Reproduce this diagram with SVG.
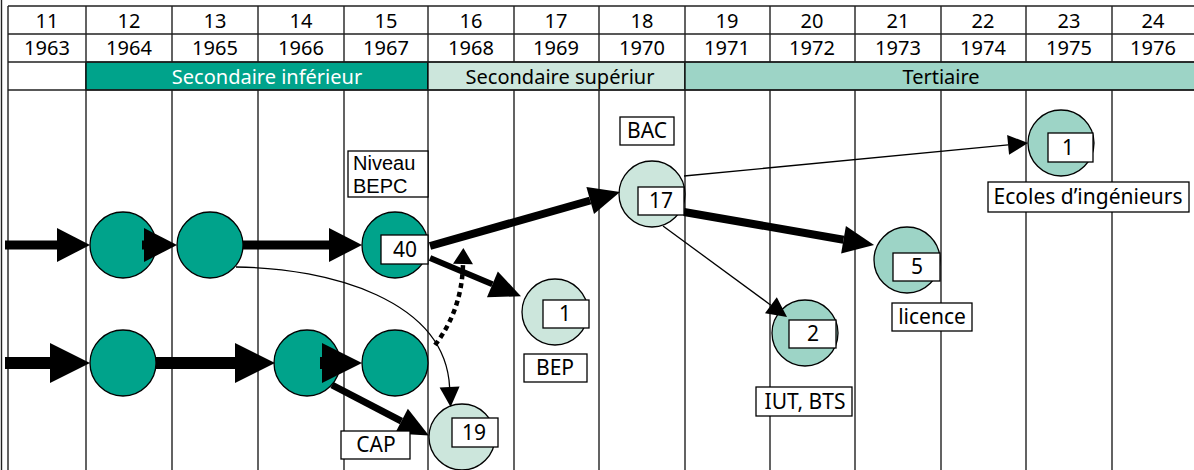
<svg xmlns="http://www.w3.org/2000/svg" width="1194" height="470" viewBox="0 0 1194 470">
<style>
text{font-family:"Noto Sans","Open Sans","DejaVu Sans",sans-serif;font-size:20px;fill:#000}
#labels text{font-size:21px}
#labels text.tight{font-family:"Liberation Sans",Arial,sans-serif;font-size:20px}
.c{text-anchor:middle}
.g{stroke:#222;stroke-width:1.4;fill:none}
.dk{fill:#00A38B;stroke:#000;stroke-width:1.3}
.lt{fill:#CCE6DC;stroke:#000;stroke-width:1.3}
.md{fill:#9DD4C6;stroke:#000;stroke-width:1.3}
.bx{fill:#fff;stroke:#000;stroke-width:1.3}
.ln{stroke:#000;fill:none}
</style>
<defs>
<marker id="mBig1" markerUnits="userSpaceOnUse" markerWidth="33" markerHeight="34" refX="0" refY="17" orient="auto" overflow="visible"><path d="M0,0 L33,17 L0,34 Z" fill="#000"/></marker>
<marker id="mBig2" markerUnits="userSpaceOnUse" markerWidth="40" markerHeight="40" refX="0" refY="20" orient="auto" overflow="visible"><path d="M0,0 L40,20 L0,40 Z" fill="#000"/></marker>
<marker id="mMed" markerUnits="userSpaceOnUse" markerWidth="31" markerHeight="28" refX="0" refY="14" orient="auto" overflow="visible"><path d="M0,0 L31,14 L0,28 Z" fill="#000"/></marker>
<marker id="mSmall" markerUnits="userSpaceOnUse" markerWidth="20" markerHeight="20" refX="0" refY="10" orient="auto" overflow="visible"><path d="M0,0 L20,10 L0,20 Z" fill="#000"/></marker>
<marker id="mDot" markerUnits="userSpaceOnUse" markerWidth="16" markerHeight="20" refX="0" refY="10" orient="auto" overflow="visible"><path d="M0,0 L16,10 L0,20 Z" fill="#000"/></marker>
</defs>
<rect x="0" y="0" width="1194" height="470" fill="#fff"/>
<g id="grid">
<line class="g" x1="1.5" y1="0" x2="1.5" y2="470" stroke="#555"/>
<path class="g" d="M8,6V470 M86,6V470 M172,6V470 M258,6V470 M344,6V470 M428,6V470 M514,6V470 M599,6V470 M685,6V470 M770,6V470 M855,6V470 M941,6V470 M1026,6V470 M1112,6V470"/>
<rect x="86" y="62" width="342" height="28" class="dk"/>
<rect x="428" y="62" width="257" height="28" class="lt"/>
<rect x="685" y="62" width="512" height="28" class="md"/>
<path class="g" d="M8,6H1194 M8,34H1194 M8,62H1194 M8,90H1194"/>
<g id="header-ages">
<text class="c" x="47" y="28">11</text><text class="c" x="129" y="28">12</text><text class="c" x="215" y="28">13</text><text class="c" x="301" y="28">14</text><text class="c" x="386" y="28">15</text><text class="c" x="471" y="28">16</text><text class="c" x="556" y="28">17</text><text class="c" x="642" y="28">18</text><text class="c" x="727" y="28">19</text><text class="c" x="812" y="28">20</text><text class="c" x="898" y="28">21</text><text class="c" x="983" y="28">22</text><text class="c" x="1069" y="28">23</text><text class="c" x="1153" y="28">24</text>
</g>
<g id="header-years">
<text class="c" x="47" y="55">1963</text><text class="c" x="129" y="55">1964</text><text class="c" x="215" y="55">1965</text><text class="c" x="301" y="55">1966</text><text class="c" x="386" y="55">1967</text><text class="c" x="471" y="55">1968</text><text class="c" x="556" y="55">1969</text><text class="c" x="642" y="55">1970</text><text class="c" x="727" y="55">1971</text><text class="c" x="812" y="55">1972</text><text class="c" x="898" y="55">1973</text><text class="c" x="983" y="55">1974</text><text class="c" x="1069" y="55">1975</text><text class="c" x="1153" y="55">1976</text>
</g>
<g id="header-levels">
<text class="c" x="267" y="84" style="fill:#fff">Secondaire inférieur</text>
<text class="c" x="560" y="84">Secondaire supériur</text>
<text class="c" x="941" y="84">Tertiaire</text>
</g>
</g>
<g id="n-r1a"><circle class="dk" cx="123" cy="245" r="33"/></g>
<g id="n-r1b"><circle class="dk" cx="210" cy="245" r="33"/></g>
<g id="n-bepc"><circle class="dk" cx="395" cy="245" r="33"/></g>
<g id="n-r2a"><circle class="dk" cx="123" cy="363" r="33"/></g>
<g id="n-r2b"><circle class="dk" cx="307" cy="363" r="33"/></g>
<g id="n-r2c"><circle class="dk" cx="395" cy="363" r="33"/></g>
<g id="n-bac"><circle class="lt" cx="652" cy="194" r="33"/></g>
<g id="n-bep"><circle class="lt" cx="555" cy="312" r="33"/></g>
<g id="n-cap"><circle class="lt" cx="462" cy="437" r="33"/></g>
<g id="n-iut"><circle class="md" cx="805" cy="333" r="33"/></g>
<g id="n-licence"><circle class="md" cx="907" cy="260" r="33"/></g>
<g id="n-ecoles"><circle class="md" cx="1061" cy="143" r="33"/></g>
<g id="connectors">
<path class="ln" stroke-width="9" d="M5,245H57" marker-end="url(#mBig1)"/>
<path class="ln" stroke-width="9" d="M142,245H144" marker-end="url(#mBig1)"/>
<path class="ln" stroke-width="9" d="M243,245H329" marker-end="url(#mBig1)"/>
<path class="ln" stroke-width="12" d="M5,363H50" marker-end="url(#mBig2)"/>
<path class="ln" stroke-width="12" d="M156,363H235" marker-end="url(#mBig2)"/>
<path class="ln" stroke-width="12" d="M320,363H322" marker-end="url(#mBig2)"/>
<path class="ln" stroke-width="7" d="M332,385L401.4,421.1" marker-end="url(#mMed)"/>
<path class="ln" stroke-width="8" d="M430,246L590.2,200.5" marker-end="url(#mMed)"/>
<path class="ln" stroke-width="6" d="M430,258L492.4,284.3" marker-end="url(#mMed)"/>
<path class="ln" stroke-width="1.3" d="M684,176L1008.1,144.9" marker-end="url(#mSmall)"/>
<path class="ln" stroke-width="8" d="M684,212L843.5,239.7" marker-end="url(#mMed)"/>
<path class="ln" stroke-width="1.3" d="M663,226L770.9,305.2" marker-end="url(#mSmall)"/>
<path class="ln" stroke-width="1.3" d="M236,267C330,268 445,300 449.6,387" marker-end="url(#mSmall)"/>
<path class="ln" stroke-width="4.5" stroke-dasharray="5 4" d="M435,345Q462,310 463,264" marker-end="url(#mDot)"/>
</g>
<g id="labels">
<g id="l-40"><rect class="bx" x="381" y="235" width="47" height="29"/><text class="c" x="405" y="257">40</text></g>
<g id="l-17"><rect class="bx" x="638" y="187" width="46" height="28"/><text class="c" x="661" y="208">17</text></g>
<g id="l-ecoles-n"><rect class="bx" x="1048" y="133" width="45" height="29"/><text class="c" x="1068" y="155">1</text></g>
<g id="l-licence-n"><rect class="bx" x="893" y="253" width="47" height="28"/><text class="c" x="917" y="274">5</text></g>
<g id="l-iut-n"><rect class="bx" x="789" y="320" width="47" height="28"/><text class="c" x="813" y="341">2</text></g>
<g id="l-bep-n"><rect class="bx" x="543" y="300" width="46" height="28"/><text class="c" x="565" y="321">1</text></g>
<g id="l-cap-n"><rect class="bx" x="452" y="418" width="46" height="29"/><text class="c" x="474" y="440">19</text></g>
<g id="l-bac"><rect class="bx" x="620" y="117" width="54" height="28"/><text class="c" x="647" y="138">BAC</text></g>
<g id="l-bepc"><rect class="bx" x="348" y="151" width="80" height="46"/><text class="tight" x="353" y="170">Niveau<tspan x="353" y="193">BEPC</tspan></text></g>
<g id="l-bep"><rect class="bx" x="524" y="354" width="63" height="28"/><text class="c" x="555" y="375">BEP</text></g>
<g id="l-cap"><rect class="bx" x="341" y="431" width="69" height="28"/><text class="c" x="376" y="452">CAP</text></g>
<g id="l-iut"><rect class="bx" x="756" y="387" width="96" height="29"/><text class="c" x="805" y="409">IUT, BTS</text></g>
<g id="l-licence"><rect class="bx" x="892" y="303" width="80" height="28"/><text class="c" x="932" y="324">licence</text></g>
<g id="l-ecoles"><rect class="bx" x="988" y="182" width="201" height="30"/><text class="c" x="1088" y="204">Ecoles d’ingénieurs</text></g>
</g>
</svg>
